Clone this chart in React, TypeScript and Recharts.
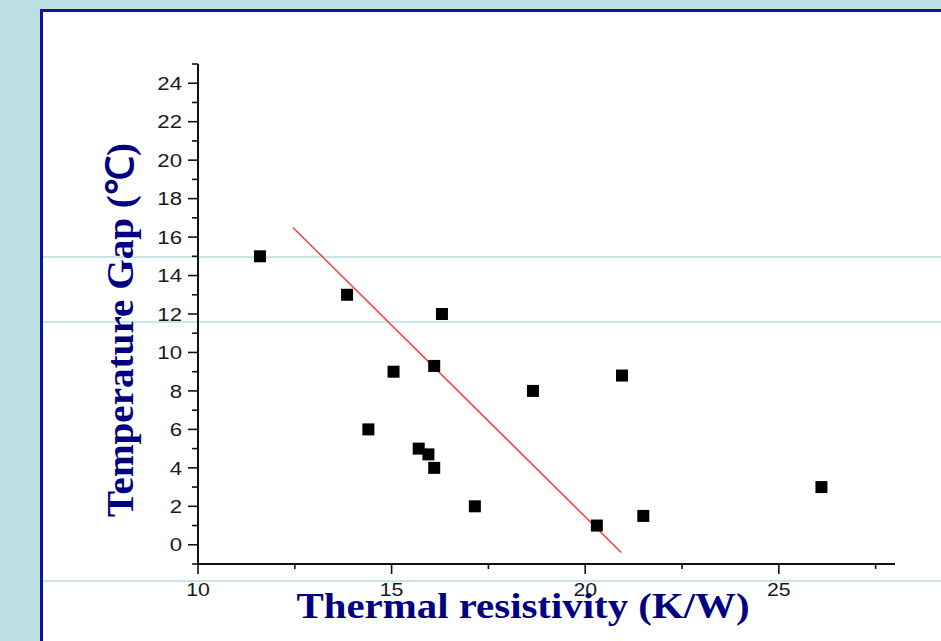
import React from 'react';
import { ScatterChart, Scatter, XAxis, YAxis, Label } from 'recharts';

// Measured points: thermal resistivity (K/W) vs temperature gap (°C)
const thermalResistivity = [11.6, 13.85, 16.3, 15.05, 16.1, 18.65, 20.95, 14.4, 15.7, 15.95, 16.1, 17.15, 20.3, 21.5, 26.1];
const temperatureGap = [15, 13, 12, 9, 9.3, 8, 8.8, 6, 5, 4.7, 4, 2, 1, 1.5, 3];

// Linear fit end points
const fitX = [12.45, 20.93];
const fitY = [16.5, -0.4];

// Axis ticks
const xTicks = [10, 12.5, 15, 17.5, 20, 22.5, 25, 27.5];
const xLabeled = [10, 15, 20, 25];
const yTicks = [-1, 0, 1, 2, 3, 4, 5, 6, 7, 8, 9, 10, 11, 12, 13, 14, 15, 16, 17, 18, 19, 20, 21, 22, 23, 24, 25];
const yLabeled = [0, 2, 4, 6, 8, 10, 12, 14, 16, 18, 20, 22, 24];

const xTitle = 'Thermal resistivity (K/W)';
const yTitle = 'Temperature Gap (℃)';

const points = thermalResistivity.map((x, i) => ({ x, y: temperatureGap[i] }));
const fitLine = fitX.map((x, i) => ({ x, y: fitY[i] }));

const tickFont = '"Liberation Sans", Arial, sans-serif';
const titleFont = '"Liberation Serif", "Times New Roman", serif';
const navy = '#000080';

const YTick = (props: any) => {
  const { x, y, payload } = props;
  const v = payload.value;
  const major = yLabeled.includes(v);
  return (
    <g>
      <line x1={x} x2={x - (major ? 10 : 6)} y1={y} y2={y} stroke="#111" strokeWidth={1.6} />
      {major && (
        <text
          transform={`translate(${x - 16}, ${y}) scale(1.2, 1)`}
          x={0}
          y={0}
          dy="0.36em"
          textAnchor="end"
          fontFamily={tickFont}
          fontSize={18.5}
          fill="#1a1a1a"
        >
          {v}
        </text>
      )}
    </g>
  );
};

const XTick = (props: any) => {
  const { x, y, payload } = props;
  const v = payload.value;
  const major = xLabeled.includes(v);
  return (
    <g>
      <line x1={x} x2={x} y1={y} y2={y + (major ? 10 : 5)} stroke="#111" strokeWidth={1.6} />
      {major && (
        <text
          transform={`translate(${x}, ${y + 32}) scale(1.15, 1)`}
          x={0}
          y={0}
          textAnchor="middle"
          fontFamily={tickFont}
          fontSize={18.5}
          fill="#1a1a1a"
        >
          {v}
        </text>
      )}
    </g>
  );
};

const SquareDot = (props: any) => {
  const { cx, cy } = props;
  return <rect x={cx - 6} y={cy - 6} width={12} height={12} fill="#000" />;
};

const NoDot = () => <g />;

export default function App() {
  return (
    <div style={{ position: 'absolute', left: 0, top: 0, width: 941, height: 641, background: '#B9DFE3', overflow: 'hidden' }}>
      <div
        style={{
          position: 'absolute',
          left: 40,
          top: 9,
          width: 901,
          height: 632,
          background: '#ffffff',
          borderLeft: '3px solid #14149A',
          borderTop: '3px solid #14149A',
          boxSizing: 'border-box',
        }}
      />
      <div style={{ position: 'absolute', left: 43, top: 256, width: 898, height: 2, background: '#C9E5E9' }} />
      <div style={{ position: 'absolute', left: 43, top: 321, width: 898, height: 2, background: '#C9E5E9' }} />
      <div style={{ position: 'absolute', left: 43, top: 580, width: 898, height: 2, background: '#C9E5E9' }} />
      <div style={{ position: 'absolute', left: 0, top: 0 }}>
        <ScatterChart width={941} height={641} margin={{ top: 64, right: 46, bottom: 0, left: 138 }}>
          <XAxis
            type="number"
            dataKey="x"
            domain={[10, 28]}
            ticks={xTicks}
            interval={0}
            allowDataOverflow
            height={77}
            tickSize={0}
            tickMargin={0}
            tickLine={false}
            tick={<XTick />}
            axisLine={{ stroke: '#111', strokeWidth: 2 }}
          >
            <Label
              content={() => (
                <text
                  x={523}
                  y={618}
                  textAnchor="middle"
                  fontFamily={titleFont}
                  fontWeight="bold"
                  fontSize={35}
                  fill={navy}
                  textLength={453}
                  lengthAdjust="spacingAndGlyphs"
                >
                  {xTitle}
                </text>
              )}
            />
          </XAxis>
          <YAxis
            type="number"
            dataKey="y"
            domain={[-1, 25]}
            ticks={yTicks}
            interval={0}
            allowDataOverflow
            width={60}
            tickSize={0}
            tickMargin={0}
            tickLine={false}
            tick={<YTick />}
            axisLine={{ stroke: '#111', strokeWidth: 2 }}
          >
            <Label
              content={() => (
                <text
                  x={133}
                  y={330}
                  transform="rotate(-90, 133, 330)"
                  textAnchor="middle"
                  fontFamily={titleFont}
                  fontWeight="bold"
                  fontSize={38}
                  fill={navy}
                  textLength={374}
                  lengthAdjust="spacingAndGlyphs"
                >
                  {yTitle}
                </text>
              )}
            />
          </YAxis>
          <Scatter
            data={fitLine}
            line={{ stroke: '#FF3B3B', strokeWidth: 1.5 }}
            shape={<NoDot />}
            isAnimationActive={false}
            legendType="none"
          />
          <Scatter data={points} shape={<SquareDot />} fill="#000" isAnimationActive={false} />
        </ScatterChart>
      </div>
    </div>
  );
}
